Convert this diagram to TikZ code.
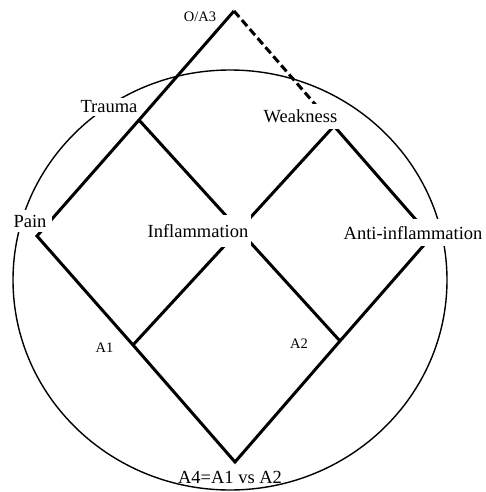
\documentclass[tikz,border=0pt]{standalone}
\usepackage{fontspec}
\setmainfont{Liberation Serif}
\begin{document}
\begin{tikzpicture}[x=1pt,y=-1pt,
  edge/.style={line width=3pt},
  dashedge/.style={line width=3pt,dash pattern=on 8pt off 4pt},
  ring/.style={line width=1.4pt},
  biglabel/.style={font=\fontsize{18.5}{20}\selectfont,anchor=base,fill=white,inner xsep=3pt,inner ysep=3pt},
  smalllabel/.style={font=\fontsize{14.5}{16}\selectfont,anchor=base,inner sep=1pt}]
\useasboundingbox (0,0) rectangle (486,492);
% corners
\coordinate (O) at (234,11);
\coordinate (L) at (37,236);
\coordinate (B) at (235,462);
\coordinate (R) at (431,237);
\coordinate (T) at (139,120);
\coordinate (W) at (334,126);
\coordinate (P1) at (133,345);
\coordinate (P2) at (340,341);
\coordinate (C) at (239,230);
% ellipse
\draw[ring] (230,280) ellipse [x radius=217pt, y radius=210pt];
% diamond
\draw[edge] (O) -- (T) -- (L) -- (P1) -- (B) -- (P2) -- (R) -- (W);
\draw[dashedge] (O) -- (W);
\draw[edge] (T) -- (C) -- (P2);
\draw[edge] (W) -- (C) -- (P1);
% labels
\node[smalllabel] (oa3) at (200,21.5) {O/A3};
\node[biglabel] (trauma) at (109,113) {Trauma};
\node[biglabel,inner ysep=6pt] (weak) at (300.5,123) {Weakness};
\node[biglabel,inner xsep=6pt,inner ysep=5pt] (pain) at (30,227) {Pain};
\node[biglabel,inner ysep=9pt] (infl) at (198,237.5) {Inflammation};
\node[biglabel,inner ysep=7pt] (anti) at (413,239) {Anti-inflammation};
\node[smalllabel] (a1) at (104.5,352) {A1};
\node[smalllabel] (a2) at (299,348) {A2};
\node[biglabel,fill=none] (a4) at (230,483) {A4=A1 vs A2};
\end{tikzpicture}
\end{document}
